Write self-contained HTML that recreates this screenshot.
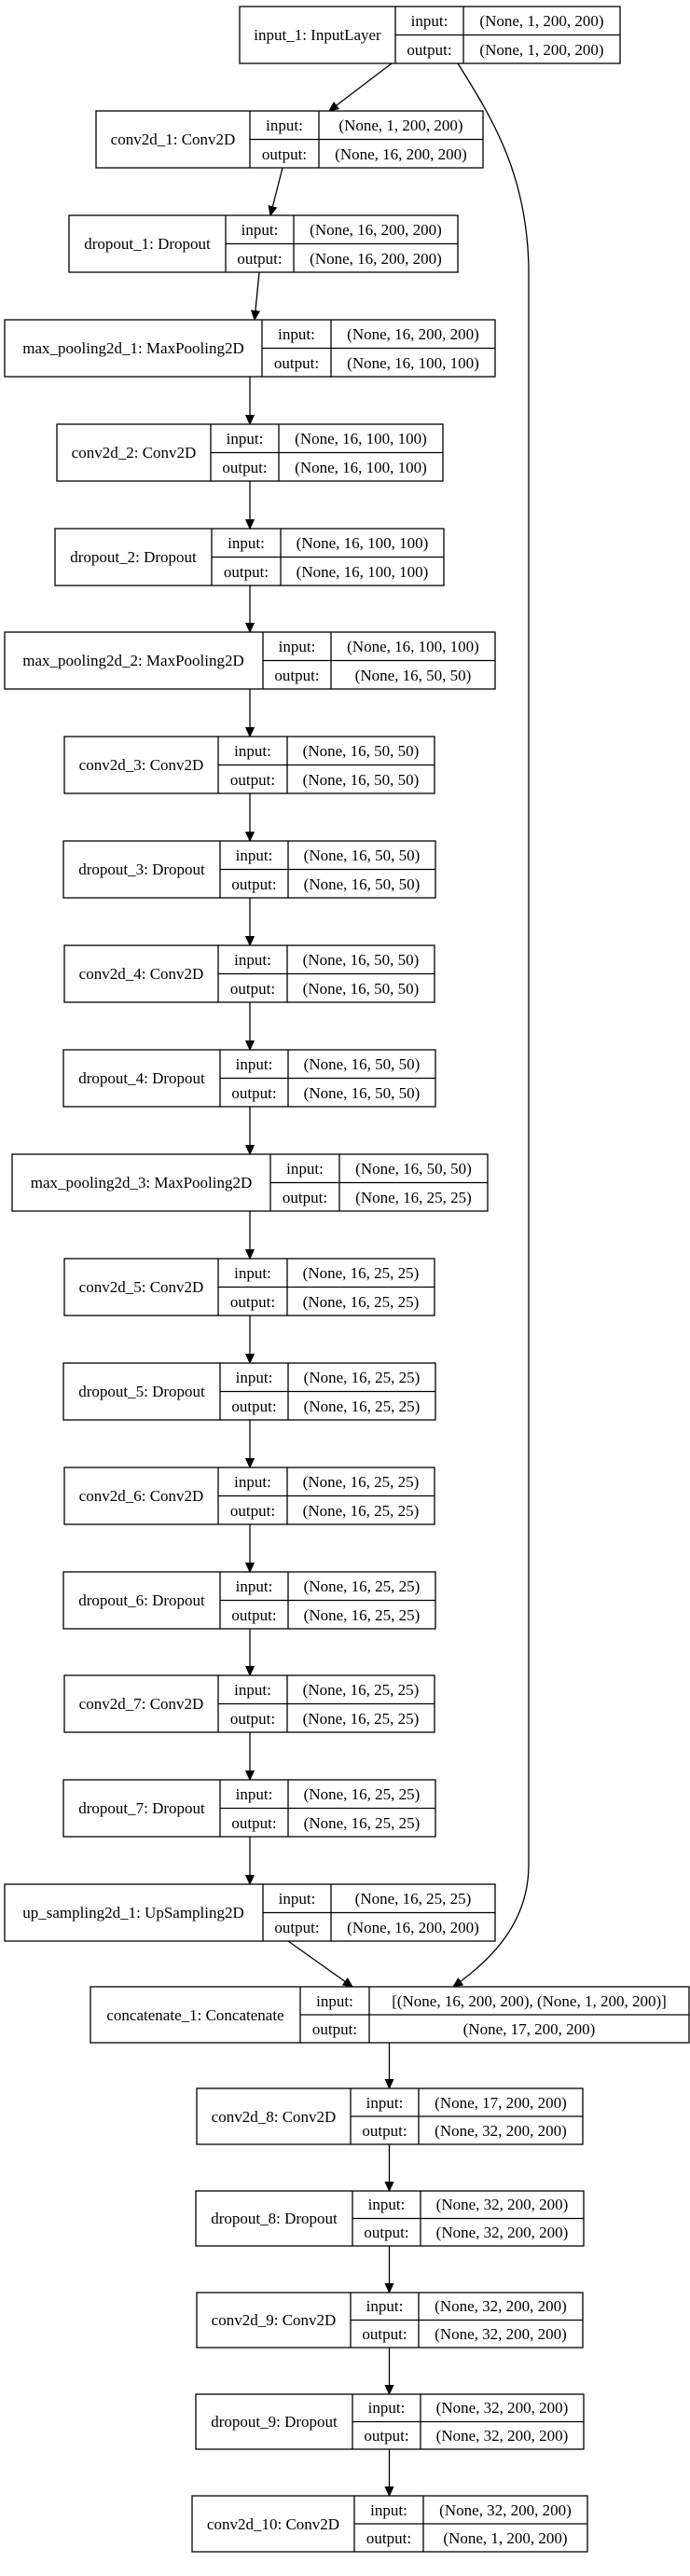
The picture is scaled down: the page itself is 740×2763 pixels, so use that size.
<!DOCTYPE html>
<html><head><meta charset="utf-8"><style>
html,body{margin:0;padding:0;background:#fff;}
svg{display:block;}
text{font-family:"Liberation Serif",serif;font-size:17px;fill:#000;}
.m{text-anchor:middle;}
rect,line.b{fill:#fff;stroke:#000;stroke-width:1.3;}
line.b{fill:none;}
.e{stroke:#000;stroke-width:1.3;fill:none;}
.h{fill:#000;stroke:#000;stroke-width:1;}
</style></head><body>
<svg width="740" height="2763" viewBox="0 0 740 2763" xmlns="http://www.w3.org/2000/svg">
<defs><marker id="a" markerWidth="10" markerHeight="10" refX="10" refY="5" orient="auto" markerUnits="userSpaceOnUse"><path d="M0,0.5 L10,5 L0,9.5 Z" class="h"/></marker></defs>

<!-- edges -->
<g class="e">
<line x1="420" y1="68" x2="353" y2="119" marker-end="url(#a)"/>
<line x1="303" y1="180" x2="290" y2="231" marker-end="url(#a)"/>
<line x1="278" y1="292" x2="273" y2="343" marker-end="url(#a)"/>
<path d="M491,68 C530,130 566,190 567,290 L567,2000 C567,2060 530,2100 486,2131" marker-end="url(#a)"/>
<line x1="268" y1="404" x2="268" y2="455" marker-end="url(#a)"/>
<line x1="268" y1="516" x2="268" y2="567" marker-end="url(#a)"/>
<line x1="268" y1="628" x2="268" y2="678" marker-end="url(#a)"/>
<line x1="268" y1="739" x2="268" y2="790" marker-end="url(#a)"/>
<line x1="268" y1="851" x2="268" y2="902" marker-end="url(#a)"/>
<line x1="268" y1="963" x2="268" y2="1014" marker-end="url(#a)"/>
<line x1="268" y1="1075" x2="268" y2="1126" marker-end="url(#a)"/>
<line x1="268" y1="1187" x2="268" y2="1238" marker-end="url(#a)"/>
<line x1="268" y1="1299" x2="268" y2="1350" marker-end="url(#a)"/>
<line x1="268" y1="1411" x2="268" y2="1462" marker-end="url(#a)"/>
<line x1="268" y1="1523" x2="268" y2="1574" marker-end="url(#a)"/>
<line x1="268" y1="1635" x2="268" y2="1686" marker-end="url(#a)"/>
<line x1="268" y1="1747" x2="268" y2="1797" marker-end="url(#a)"/>
<line x1="268" y1="1858" x2="268" y2="1909" marker-end="url(#a)"/>
<line x1="268" y1="1970" x2="268" y2="2021" marker-end="url(#a)"/>
<line x1="309" y1="2082" x2="378" y2="2131" marker-end="url(#a)"/>
<line x1="417.5" y1="2191" x2="417.5" y2="2240" marker-end="url(#a)"/>
<line x1="417.5" y1="2300" x2="417.5" y2="2350" marker-end="url(#a)"/>
<line x1="417.5" y1="2409" x2="417.5" y2="2459" marker-end="url(#a)"/>
<line x1="417.5" y1="2518" x2="417.5" y2="2568" marker-end="url(#a)"/>
<line x1="417.5" y1="2627" x2="417.5" y2="2677" marker-end="url(#a)"/>
</g>

<!-- node template: rect x1,T,w,61 ; cols c1,c2 ; divider T+30.5 -->
<g transform="translate(0,7)"><rect x="257" y="0" width="408" height="61"/><line class="b" x1="424" y1="0" x2="424" y2="61"/><line class="b" x1="497" y1="0" x2="497" y2="61"/><line class="b" x1="424" y1="30.5" x2="665" y2="30.5"/>
<text class="m" x="340.5" y="36">input_1: InputLayer</text><text class="m" x="460.5" y="21">input:</text><text class="m" x="460.5" y="52">output:</text><text class="m" x="581" y="21">(None, 1, 200, 200)</text><text class="m" x="581" y="52">(None, 1, 200, 200)</text></g>

<g transform="translate(0,119)"><rect x="103" y="0" width="415" height="61"/><line class="b" x1="268" y1="0" x2="268" y2="61"/><line class="b" x1="342" y1="0" x2="342" y2="61"/><line class="b" x1="268" y1="30.5" x2="518" y2="30.5"/>
<text class="m" x="185.5" y="36">conv2d_1: Conv2D</text><text class="m" x="305" y="21">input:</text><text class="m" x="305" y="52">output:</text><text class="m" x="430" y="21">(None, 1, 200, 200)</text><text class="m" x="430" y="52">(None, 16, 200, 200)</text></g>

<g transform="translate(0,231)"><rect x="74" y="0" width="417" height="61"/><line class="b" x1="242" y1="0" x2="242" y2="61"/><line class="b" x1="315" y1="0" x2="315" y2="61"/><line class="b" x1="242" y1="30.5" x2="491" y2="30.5"/>
<text class="m" x="158" y="36">dropout_1: Dropout</text><text class="m" x="278.5" y="21">input:</text><text class="m" x="278.5" y="52">output:</text><text class="m" x="403" y="21">(None, 16, 200, 200)</text><text class="m" x="403" y="52">(None, 16, 200, 200)</text></g>

<g transform="translate(0,343)"><rect x="5" y="0" width="526" height="61"/><line class="b" x1="281" y1="0" x2="281" y2="61"/><line class="b" x1="355" y1="0" x2="355" y2="61"/><line class="b" x1="281" y1="30.5" x2="531" y2="30.5"/>
<text class="m" x="143" y="36">max_pooling2d_1: MaxPooling2D</text><text class="m" x="318" y="21">input:</text><text class="m" x="318" y="52">output:</text><text class="m" x="443" y="21">(None, 16, 200, 200)</text><text class="m" x="443" y="52">(None, 16, 100, 100)</text></g>

<g transform="translate(0,455)"><rect x="61" y="0" width="414" height="61"/><line class="b" x1="226" y1="0" x2="226" y2="61"/><line class="b" x1="299" y1="0" x2="299" y2="61"/><line class="b" x1="226" y1="30.5" x2="475" y2="30.5"/>
<text class="m" x="143.5" y="36">conv2d_2: Conv2D</text><text class="m" x="262.5" y="21">input:</text><text class="m" x="262.5" y="52">output:</text><text class="m" x="387" y="21">(None, 16, 100, 100)</text><text class="m" x="387" y="52">(None, 16, 100, 100)</text></g>

<g transform="translate(0,567)"><rect x="59" y="0" width="417" height="61"/><line class="b" x1="227" y1="0" x2="227" y2="61"/><line class="b" x1="301" y1="0" x2="301" y2="61"/><line class="b" x1="227" y1="30.5" x2="476" y2="30.5"/>
<text class="m" x="143" y="36">dropout_2: Dropout</text><text class="m" x="264" y="21">input:</text><text class="m" x="264" y="52">output:</text><text class="m" x="388.5" y="21">(None, 16, 100, 100)</text><text class="m" x="388.5" y="52">(None, 16, 100, 100)</text></g>

<g transform="translate(0,678)"><rect x="5" y="0" width="526" height="61"/><line class="b" x1="282" y1="0" x2="282" y2="61"/><line class="b" x1="355" y1="0" x2="355" y2="61"/><line class="b" x1="282" y1="30.5" x2="531" y2="30.5"/>
<text class="m" x="143" y="36">max_pooling2d_2: MaxPooling2D</text><text class="m" x="318.5" y="21">input:</text><text class="m" x="318.5" y="52">output:</text><text class="m" x="443" y="21">(None, 16, 100, 100)</text><text class="m" x="443" y="52">(None, 16, 50, 50)</text></g>

<g transform="translate(0,790)"><rect x="69" y="0" width="397" height="61"/><line class="b" x1="234" y1="0" x2="234" y2="61"/><line class="b" x1="308" y1="0" x2="308" y2="61"/><line class="b" x1="234" y1="30.5" x2="466" y2="30.5"/>
<text class="m" x="151.5" y="36">conv2d_3: Conv2D</text><text class="m" x="271" y="21">input:</text><text class="m" x="271" y="52">output:</text><text class="m" x="387" y="21">(None, 16, 50, 50)</text><text class="m" x="387" y="52">(None, 16, 50, 50)</text></g>

<g transform="translate(0,902)"><rect x="68" y="0" width="399" height="61"/><line class="b" x1="236" y1="0" x2="236" y2="61"/><line class="b" x1="309" y1="0" x2="309" y2="61"/><line class="b" x1="236" y1="30.5" x2="467" y2="30.5"/>
<text class="m" x="152" y="36">dropout_3: Dropout</text><text class="m" x="272.5" y="21">input:</text><text class="m" x="272.5" y="52">output:</text><text class="m" x="388" y="21">(None, 16, 50, 50)</text><text class="m" x="388" y="52">(None, 16, 50, 50)</text></g>

<g transform="translate(0,1014)"><rect x="69" y="0" width="397" height="61"/><line class="b" x1="234" y1="0" x2="234" y2="61"/><line class="b" x1="308" y1="0" x2="308" y2="61"/><line class="b" x1="234" y1="30.5" x2="466" y2="30.5"/>
<text class="m" x="151.5" y="36">conv2d_4: Conv2D</text><text class="m" x="271" y="21">input:</text><text class="m" x="271" y="52">output:</text><text class="m" x="387" y="21">(None, 16, 50, 50)</text><text class="m" x="387" y="52">(None, 16, 50, 50)</text></g>

<g transform="translate(0,1126)"><rect x="68" y="0" width="399" height="61"/><line class="b" x1="236" y1="0" x2="236" y2="61"/><line class="b" x1="309" y1="0" x2="309" y2="61"/><line class="b" x1="236" y1="30.5" x2="467" y2="30.5"/>
<text class="m" x="152" y="36">dropout_4: Dropout</text><text class="m" x="272.5" y="21">input:</text><text class="m" x="272.5" y="52">output:</text><text class="m" x="388" y="21">(None, 16, 50, 50)</text><text class="m" x="388" y="52">(None, 16, 50, 50)</text></g>

<g transform="translate(0,1238)"><rect x="13" y="0" width="510" height="61"/><line class="b" x1="290" y1="0" x2="290" y2="61"/><line class="b" x1="364" y1="0" x2="364" y2="61"/><line class="b" x1="290" y1="30.5" x2="523" y2="30.5"/>
<text class="m" x="151.5" y="36">max_pooling2d_3: MaxPooling2D</text><text class="m" x="327" y="21">input:</text><text class="m" x="327" y="52">output:</text><text class="m" x="443.5" y="21">(None, 16, 50, 50)</text><text class="m" x="443.5" y="52">(None, 16, 25, 25)</text></g>

<g transform="translate(0,1350)"><rect x="69" y="0" width="397" height="61"/><line class="b" x1="234" y1="0" x2="234" y2="61"/><line class="b" x1="308" y1="0" x2="308" y2="61"/><line class="b" x1="234" y1="30.5" x2="466" y2="30.5"/>
<text class="m" x="151.5" y="36">conv2d_5: Conv2D</text><text class="m" x="271" y="21">input:</text><text class="m" x="271" y="52">output:</text><text class="m" x="387" y="21">(None, 16, 25, 25)</text><text class="m" x="387" y="52">(None, 16, 25, 25)</text></g>

<g transform="translate(0,1462)"><rect x="68" y="0" width="399" height="61"/><line class="b" x1="236" y1="0" x2="236" y2="61"/><line class="b" x1="309" y1="0" x2="309" y2="61"/><line class="b" x1="236" y1="30.5" x2="467" y2="30.5"/>
<text class="m" x="152" y="36">dropout_5: Dropout</text><text class="m" x="272.5" y="21">input:</text><text class="m" x="272.5" y="52">output:</text><text class="m" x="388" y="21">(None, 16, 25, 25)</text><text class="m" x="388" y="52">(None, 16, 25, 25)</text></g>

<g transform="translate(0,1574)"><rect x="69" y="0" width="397" height="61"/><line class="b" x1="234" y1="0" x2="234" y2="61"/><line class="b" x1="308" y1="0" x2="308" y2="61"/><line class="b" x1="234" y1="30.5" x2="466" y2="30.5"/>
<text class="m" x="151.5" y="36">conv2d_6: Conv2D</text><text class="m" x="271" y="21">input:</text><text class="m" x="271" y="52">output:</text><text class="m" x="387" y="21">(None, 16, 25, 25)</text><text class="m" x="387" y="52">(None, 16, 25, 25)</text></g>

<g transform="translate(0,1686)"><rect x="68" y="0" width="399" height="61"/><line class="b" x1="236" y1="0" x2="236" y2="61"/><line class="b" x1="309" y1="0" x2="309" y2="61"/><line class="b" x1="236" y1="30.5" x2="467" y2="30.5"/>
<text class="m" x="152" y="36">dropout_6: Dropout</text><text class="m" x="272.5" y="21">input:</text><text class="m" x="272.5" y="52">output:</text><text class="m" x="388" y="21">(None, 16, 25, 25)</text><text class="m" x="388" y="52">(None, 16, 25, 25)</text></g>

<g transform="translate(0,1797)"><rect x="69" y="0" width="397" height="61"/><line class="b" x1="234" y1="0" x2="234" y2="61"/><line class="b" x1="308" y1="0" x2="308" y2="61"/><line class="b" x1="234" y1="30.5" x2="466" y2="30.5"/>
<text class="m" x="151.5" y="36">conv2d_7: Conv2D</text><text class="m" x="271" y="21">input:</text><text class="m" x="271" y="52">output:</text><text class="m" x="387" y="21">(None, 16, 25, 25)</text><text class="m" x="387" y="52">(None, 16, 25, 25)</text></g>

<g transform="translate(0,1909)"><rect x="68" y="0" width="399" height="61"/><line class="b" x1="236" y1="0" x2="236" y2="61"/><line class="b" x1="309" y1="0" x2="309" y2="61"/><line class="b" x1="236" y1="30.5" x2="467" y2="30.5"/>
<text class="m" x="152" y="36">dropout_7: Dropout</text><text class="m" x="272.5" y="21">input:</text><text class="m" x="272.5" y="52">output:</text><text class="m" x="388" y="21">(None, 16, 25, 25)</text><text class="m" x="388" y="52">(None, 16, 25, 25)</text></g>

<g transform="translate(0,2021)"><rect x="5" y="0" width="526" height="61"/><line class="b" x1="282" y1="0" x2="282" y2="61"/><line class="b" x1="355" y1="0" x2="355" y2="61"/><line class="b" x1="282" y1="30.5" x2="531" y2="30.5"/>
<text class="m" x="143" y="36">up_sampling2d_1: UpSampling2D</text><text class="m" x="318.5" y="21">input:</text><text class="m" x="318.5" y="52">output:</text><text class="m" x="443" y="21">(None, 16, 25, 25)</text><text class="m" x="443" y="52">(None, 16, 200, 200)</text></g>

<g transform="translate(0,2131)"><rect x="97" y="0" width="642" height="60"/><line class="b" x1="322" y1="0" x2="322" y2="60"/><line class="b" x1="396" y1="0" x2="396" y2="60"/><line class="b" x1="322" y1="30" x2="739" y2="30"/>
<text class="m" x="209.5" y="36">concatenate_1: Concatenate</text><text class="m" x="359" y="21">input:</text><text class="m" x="359" y="51">output:</text><text class="m" x="567.5" y="21">[(None, 16, 200, 200), (None, 1, 200, 200)]</text><text class="m" x="567.5" y="51">(None, 17, 200, 200)</text></g>

<g transform="translate(0,2240)"><rect x="211" y="0" width="414" height="60"/><line class="b" x1="376" y1="0" x2="376" y2="60"/><line class="b" x1="449" y1="0" x2="449" y2="60"/><line class="b" x1="376" y1="30" x2="625" y2="30"/>
<text class="m" x="293.5" y="36">conv2d_8: Conv2D</text><text class="m" x="412.5" y="21">input:</text><text class="m" x="412.5" y="51">output:</text><text class="m" x="537" y="21">(None, 17, 200, 200)</text><text class="m" x="537" y="51">(None, 32, 200, 200)</text></g>

<g transform="translate(0,2350)"><rect x="210" y="0" width="416" height="59"/><line class="b" x1="378" y1="0" x2="378" y2="59"/><line class="b" x1="451" y1="0" x2="451" y2="59"/><line class="b" x1="378" y1="29.5" x2="626" y2="29.5"/>
<text class="m" x="294" y="35">dropout_8: Dropout</text><text class="m" x="414.5" y="20">input:</text><text class="m" x="414.5" y="50">output:</text><text class="m" x="538.5" y="20">(None, 32, 200, 200)</text><text class="m" x="538.5" y="50">(None, 32, 200, 200)</text></g>

<g transform="translate(0,2459)"><rect x="211" y="0" width="414" height="59"/><line class="b" x1="376" y1="0" x2="376" y2="59"/><line class="b" x1="449" y1="0" x2="449" y2="59"/><line class="b" x1="376" y1="29.5" x2="625" y2="29.5"/>
<text class="m" x="293.5" y="35">conv2d_9: Conv2D</text><text class="m" x="412.5" y="20">input:</text><text class="m" x="412.5" y="50">output:</text><text class="m" x="537" y="20">(None, 32, 200, 200)</text><text class="m" x="537" y="50">(None, 32, 200, 200)</text></g>

<g transform="translate(0,2568)"><rect x="210" y="0" width="416" height="59"/><line class="b" x1="378" y1="0" x2="378" y2="59"/><line class="b" x1="451" y1="0" x2="451" y2="59"/><line class="b" x1="378" y1="29.5" x2="626" y2="29.5"/>
<text class="m" x="294" y="35">dropout_9: Dropout</text><text class="m" x="414.5" y="20">input:</text><text class="m" x="414.5" y="50">output:</text><text class="m" x="538.5" y="20">(None, 32, 200, 200)</text><text class="m" x="538.5" y="50">(None, 32, 200, 200)</text></g>

<g transform="translate(0,2677)"><rect x="206" y="0" width="424" height="60"/><line class="b" x1="380" y1="0" x2="380" y2="60"/><line class="b" x1="454" y1="0" x2="454" y2="60"/><line class="b" x1="380" y1="30" x2="630" y2="30"/>
<text class="m" x="293" y="36">conv2d_10: Conv2D</text><text class="m" x="417" y="21">input:</text><text class="m" x="417" y="51">output:</text><text class="m" x="542" y="21">(None, 32, 200, 200)</text><text class="m" x="542" y="51">(None, 1, 200, 200)</text></g>
</svg>
</body></html>
